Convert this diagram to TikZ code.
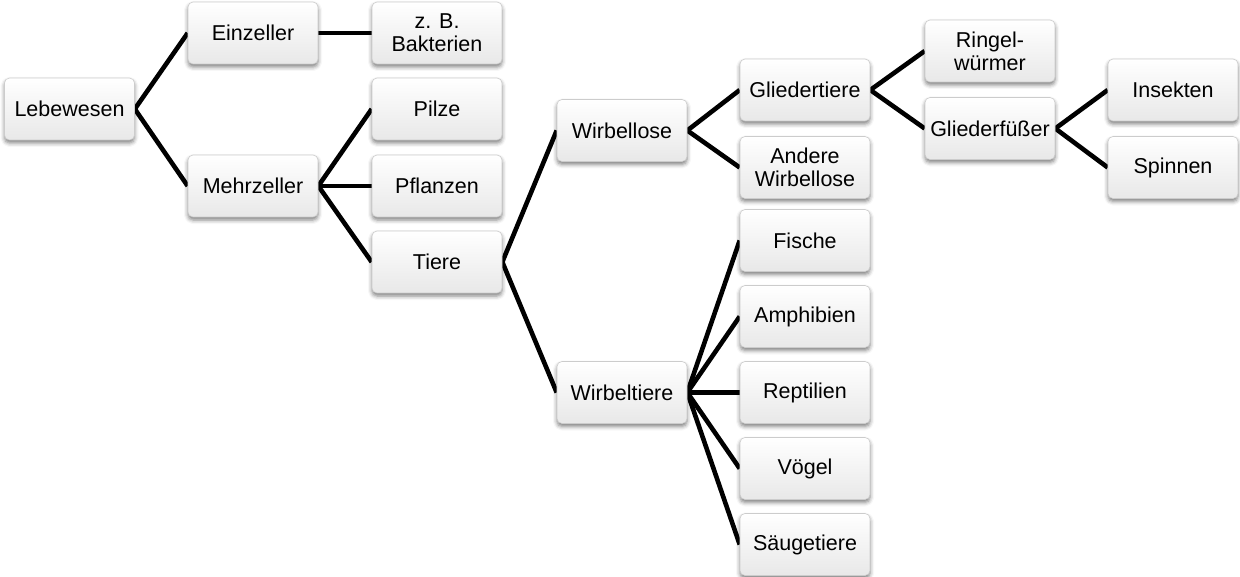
\documentclass[tikz,border=0pt]{standalone}
\usepackage{fontspec}
\setmainfont{Liberation Sans}
\usetikzlibrary{shadows.blur,backgrounds}
\tikzset{
  box/.style={rectangle, rounded corners=5pt, minimum width=130pt, minimum height=62pt,
    inner sep=2pt, align=center, top color=white, bottom color=gray!18,
    draw=gray!40, line width=0.6pt,
    font=\fontsize{21.5}{23}\selectfont,
    blur shadow={shadow xshift=0pt, shadow yshift=-3pt, shadow blur radius=4pt, shadow opacity=50}},
  link/.style={line width=4.6pt, black}
}
\begin{document}
\begin{tikzpicture}[x=1pt,y=-1pt]
\useasboundingbox (0,0) rectangle (1240,577);
\node[box] (leb) at (69.5,109) {Lebewesen};
\node[box] (ein) at (253,33) {Einzeller};
\node[box] (bak) at (437,33) {z. B.\\Bakterien};
\node[box] (meh) at (253,186) {Mehrzeller};
\node[box] (pil) at (437,109) {Pilze};
\node[box] (pfl) at (437,186) {Pflanzen};
\node[box] (tie) at (437,262) {Tiere};
\node[box] (wlo) at (622,130.5) {Wirbellose};
\node[box] (wti) at (622,392.5) {Wirbeltiere};
\node[box] (gti) at (805,90) {Gliedertiere};
\node[box] (and) at (805,167.5) {Andere\\Wirbellose};
\node[box] (rin) at (990,51) {Ringel-\\würmer};
\node[box] (gfu) at (990,128.5) {Gliederfüßer};
\node[box] (ins) at (1173,90) {Insekten};
\node[box] (spi) at (1173,167.5) {Spinnen};
\node[box] (fis) at (805,240.5) {Fische};
\node[box] (amp) at (805,316.5) {Amphibien};
\node[box] (rep) at (805,392.5) {Reptilien};
\node[box] (voe) at (805,468.5) {Vögel};
\node[box] (sae) at (805,544.5) {Säugetiere};
\begin{scope}[on background layer]
  \draw[link] (leb.east) -- (ein.west);
  \draw[link] (leb.east) -- (meh.west);
  \draw[link] (ein.east) -- (bak.west);
  \draw[link] (meh.east) -- (pil.west);
  \draw[link] (meh.east) -- (pfl.west);
  \draw[link] (meh.east) -- (tie.west);
  \draw[link] (tie.east) -- (wlo.west);
  \draw[link] (tie.east) -- (wti.west);
  \draw[link] (wlo.east) -- (gti.west);
  \draw[link] (wlo.east) -- (and.west);
  \draw[link] (gti.east) -- (rin.west);
  \draw[link] (gti.east) -- (gfu.west);
  \draw[link] (gfu.east) -- (ins.west);
  \draw[link] (gfu.east) -- (spi.west);
  \draw[link] (wti.east) -- (fis.west);
  \draw[link] (wti.east) -- (amp.west);
  \draw[link] (wti.east) -- (rep.west);
  \draw[link] (wti.east) -- (voe.west);
  \draw[link] (wti.east) -- (sae.west);
\end{scope}
\end{tikzpicture}
\end{document}
